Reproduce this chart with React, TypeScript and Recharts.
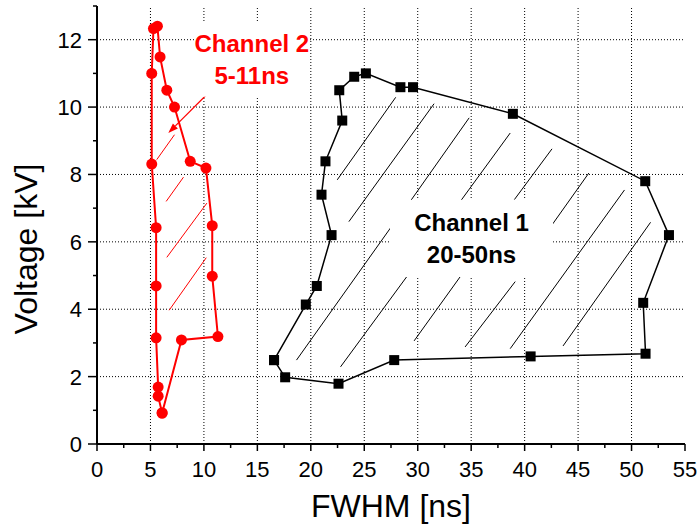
import React from 'react'
import {
  ComposedChart, Line, XAxis, YAxis, ReferenceLine, ReferenceArea,
} from 'recharts'

// Channel 2 (red) outline, closed back to the first point
const ch2X = [6.09, 5.72, 5.72, 5.53, 5.53, 5.53, 5.12, 5.12, 5.28, 5.65, 5.9, 6.53, 7.25, 8.72, 10.19, 10.78, 10.78, 11.31, 7.9, 6.09]
const ch2Y = [0.92, 1.42, 1.69, 3.15, 4.69, 6.42, 8.31, 11.0, 12.33, 12.4, 11.49, 10.5, 10.0, 8.39, 8.19, 6.48, 4.98, 3.19, 3.09, 0.92]

// Channel 1 (black) outline
const ch1X = [16.56, 17.6, 22.59, 27.8, 40.56, 51.31, 51.09, 53.5, 51.28, 38.9, 29.56, 28.38, 25.15, 24.06, 22.66, 22.94, 21.37, 21.0, 21.94, 20.56, 19.53, 16.56]
const ch1Y = [2.49, 1.98, 1.79, 2.49, 2.6, 2.68, 4.19, 6.2, 7.8, 9.8, 10.59, 10.59, 11.0, 10.9, 10.5, 9.6, 8.39, 7.4, 6.2, 4.69, 4.14, 2.49]

// hatch strokes [x1, y1, x2, y2] in data units
const ch1Hatch = [
  [22.47, 7.84, 27.94, 10.29],
  [23.56, 6.6, 31.53, 10.1],
  [29.34, 7.22, 34.81, 9.68],
  [34.03, 7.22, 38.65, 9.23],
  [39.03, 7.25, 42.56, 8.76],
  [42.62, 6.53, 46.0, 8.04],
  [38.65, 2.83, 49.34, 7.54],
  [43.59, 2.91, 51.78, 6.58],
  [34.43, 2.88, 39.12, 4.82],
  [18.66, 2.49, 27.47, 6.42],
  [22.78, 2.29, 29.03, 4.99],
  [29.66, 3.06, 34.03, 4.99],
]
const ch2Hatch = [
  [5.59, 8.44, 7.25, 9.18],
  [6.47, 7.2, 8.09, 7.92],
  [6.53, 5.54, 10.28, 7.15],
  [6.75, 3.97, 10.22, 5.53],
]
const arrowSeg = [10.48, 10.44, 6.67, 9.23]

const xTicks = [0, 2.5, 5, 7.5, 10, 12.5, 15, 17.5, 20, 22.5, 25, 27.5, 30, 32.5, 35, 37.5, 40, 42.5, 45, 47.5, 50, 52.5, 55]
const yTicks = [0, 1, 2, 3, 4, 5, 6, 7, 8, 9, 10, 11, 12, 13]
const gridX = [5, 10, 15, 20, 25, 30, 35, 40, 45, 50]
const gridY = [2, 4, 6, 8, 10, 12]

const ch1Label = ['Channel 1', '20-50ns']
const ch2Label = ['Channel 2', '5-11ns']

const FONT = '"Liberation Sans", Arial, Helvetica, sans-serif'
const RED = '#ff0000'

const ch1Data = ch1X.map((x, i) => ({ x, y: ch1Y[i] }))
const ch2Data = ch2X.map((x, i) => ({ x, y: ch2Y[i] }))

const isMajorX = (v: number) => v % 5 === 0
const isMajorY = (v: number) => v % 2 === 0

const BottomTick = (p: any) => {
  const { x, y, payload } = p
  const major = isMajorX(payload.value)
  return (
    <g>
      <line x1={x} y1={y} x2={x} y2={y + (major ? 7 : 4)} stroke="#000" strokeWidth={1.5} />
      {major && (
        <text x={x} y={y + 33} textAnchor="middle" fontSize={22} fontFamily={FONT} fill="#000">
          {payload.value}
        </text>
      )}
    </g>
  )
}

const TopTick = (p: any) => {
  const { x, y, payload } = p
  const major = isMajorX(payload.value)
  return <line x1={x} y1={y} x2={x} y2={y + (major ? 8 : 4)} stroke="#000" strokeWidth={1.5} />
}

const LeftTick = (p: any) => {
  const { x, y, payload } = p
  const major = isMajorY(payload.value)
  return (
    <g>
      <line x1={x} y1={y} x2={x - (major ? 9 : 4)} y2={y} stroke="#000" strokeWidth={1.5} />
      {major && (
        <text x={x - 15} y={y + 8} textAnchor="end" fontSize={22} fontFamily={FONT} fill="#000">
          {payload.value}
        </text>
      )}
    </g>
  )
}

const RightTick = (p: any) => {
  const { x, y, payload } = p
  const major = isMajorY(payload.value)
  return <line x1={x} y1={y} x2={x - (major ? 9 : 4)} y2={y} stroke="#000" strokeWidth={1.5} />
}

const XTitle = (p: any) => {
  const vb = p.viewBox
  return (
    <text x={vb.x + vb.width / 2} y={vb.y + 73} textAnchor="middle" fontSize={32} fontFamily={FONT} fill="#000">
      FWHM [ns]
    </text>
  )
}

const YTitle = (p: any) => {
  const vb = p.viewBox
  const cx = vb.x
  const cy = vb.y + vb.height / 2 + 24
  return (
    <text x={cx} y={cy} transform={`rotate(-90 ${cx} ${cy})`} textAnchor="middle" fontSize={32} fontFamily={FONT} fill="#000">
      Voltage [kV]
    </text>
  )
}

const BoxLabel = (p: any) => {
  const { viewBox, lines, color } = p
  const cx = viewBox.x + viewBox.width / 2
  const cy = viewBox.y + viewBox.height / 2
  return (
    <text fill={color} fontSize={24} fontWeight="bold" fontFamily={FONT} textAnchor="middle">
      <tspan x={cx} y={cy - 7}>{lines[0]}</tspan>
      <tspan x={cx} y={cy + 25}>{lines[1]}</tspan>
    </text>
  )
}

const SquareDot = (p: any) => {
  if (p.cx == null || p.cy == null) return <g key={p.index} />
  return <rect key={p.index} x={p.cx - 5} y={p.cy - 5} width={10} height={10} fill="#000" />
}

const Arrow = (p: any) => {
  const { x1, y1, x2, y2 } = p
  const a = Math.atan2(y2 - y1, x2 - x1)
  const L = 10
  const W = 3.5
  const bx = x2 - L * Math.cos(a)
  const by = y2 - L * Math.sin(a)
  const pts = `${x2},${y2} ${bx - W * Math.sin(a)},${by + W * Math.cos(a)} ${bx + W * Math.sin(a)},${by - W * Math.cos(a)}`
  return (
    <g>
      <line x1={x1} y1={y1} x2={bx} y2={by} stroke={RED} strokeWidth={1.2} />
      <polygon points={pts} fill={RED} />
    </g>
  )
}

export default function App() {
  return (
    <div style={{ position: 'absolute', left: 0, top: 0, width: 699, height: 527, background: '#fff' }}>
      <ComposedChart width={699} height={527} margin={{ top: 6, right: 14, bottom: 23, left: 37 }}>
        <XAxis
          xAxisId="b" type="number" dataKey="x" domain={[0, 55]} ticks={xTicks} interval={0}
          height={60} tickSize={0} tickMargin={0} tickLine={false} tick={<BottomTick />}
          axisLine={{ stroke: '#000', strokeWidth: 2 }} allowDataOverflow label={<XTitle />}
        />
        <XAxis
          xAxisId="t" orientation="top" type="number" dataKey="x" domain={[0, 55]} ticks={xTicks} interval={0}
          height={0} tickSize={0} tickMargin={0} tickLine={false} tick={<TopTick />}
          axisLine={{ stroke: '#000', strokeWidth: 2 }} allowDataOverflow
        />
        <YAxis
          yAxisId="l" type="number" domain={[0, 13]} ticks={yTicks} interval={0}
          width={60} tickSize={0} tickMargin={0} tickLine={false} tick={<LeftTick />}
          axisLine={{ stroke: '#000', strokeWidth: 2 }} allowDataOverflow label={<YTitle />}
        />
        <YAxis
          yAxisId="r" orientation="right" type="number" domain={[0, 13]} ticks={yTicks} interval={0}
          width={0} tickSize={0} tickMargin={0} tickLine={false} tick={<RightTick />}
          axisLine={{ stroke: '#000', strokeWidth: 2 }} allowDataOverflow
        />

        {gridX.map((v) => (
          <ReferenceLine
            key={'gx' + v} xAxisId="b" yAxisId="l" x={v} ifOverflow="visible"
            stroke="#000" strokeDasharray="1 2" strokeWidth={1}
          />
        ))}
        {gridY.map((v) => (
          <ReferenceLine
            key={'gy' + v} xAxisId="b" yAxisId="l" y={v} ifOverflow="visible"
            stroke="#000" strokeDasharray="1 2" strokeWidth={1}
          />
        ))}

        <ReferenceArea
          xAxisId="b" yAxisId="l" x1={27.4} x2={42.66} y1={4.96} y2={7.25} zIndex={450}
          fill="#fff" fillOpacity={1} stroke="none" ifOverflow="visible"
          label={<BoxLabel lines={ch1Label} color="#000" />}
        />
        <ReferenceArea
          xAxisId="b" yAxisId="l" x1={9.17} x2={19.8} y1={10.31} y2={12.54} zIndex={450}
          fill="#fff" fillOpacity={1} stroke="none" ifOverflow="visible"
          label={<BoxLabel lines={ch2Label} color={RED} />}
        />

        {ch1Hatch.map((s, i) => (
          <ReferenceLine
            key={'h1' + i} xAxisId="b" yAxisId="l" ifOverflow="visible"
            segment={[{ x: s[0], y: s[1] }, { x: s[2], y: s[3] }]}
            stroke="#000" strokeWidth={1}
          />
        ))}
        {ch2Hatch.map((s, i) => (
          <ReferenceLine
            key={'h2' + i} xAxisId="b" yAxisId="l" ifOverflow="visible"
            segment={[{ x: s[0], y: s[1] }, { x: s[2], y: s[3] }]}
            stroke={RED} strokeWidth={1}
          />
        ))}
        <ReferenceLine
          xAxisId="b" yAxisId="l" ifOverflow="visible"
          segment={[{ x: arrowSeg[0], y: arrowSeg[1] }, { x: arrowSeg[2], y: arrowSeg[3] }]}
          shape={Arrow}
        />

        <Line
          xAxisId="b" yAxisId="l" data={ch1Data} dataKey="y" type="linear"
          stroke="#000" strokeWidth={1.5} dot={SquareDot} activeDot={false} isAnimationActive={false}
        />
        <Line
          xAxisId="b" yAxisId="l" data={ch2Data} dataKey="y" type="linear"
          stroke={RED} strokeWidth={2} dot={{ r: 5.5, fill: RED, stroke: RED, strokeWidth: 0 }}
          activeDot={false} isAnimationActive={false}
        />
      </ComposedChart>
    </div>
  )
}
